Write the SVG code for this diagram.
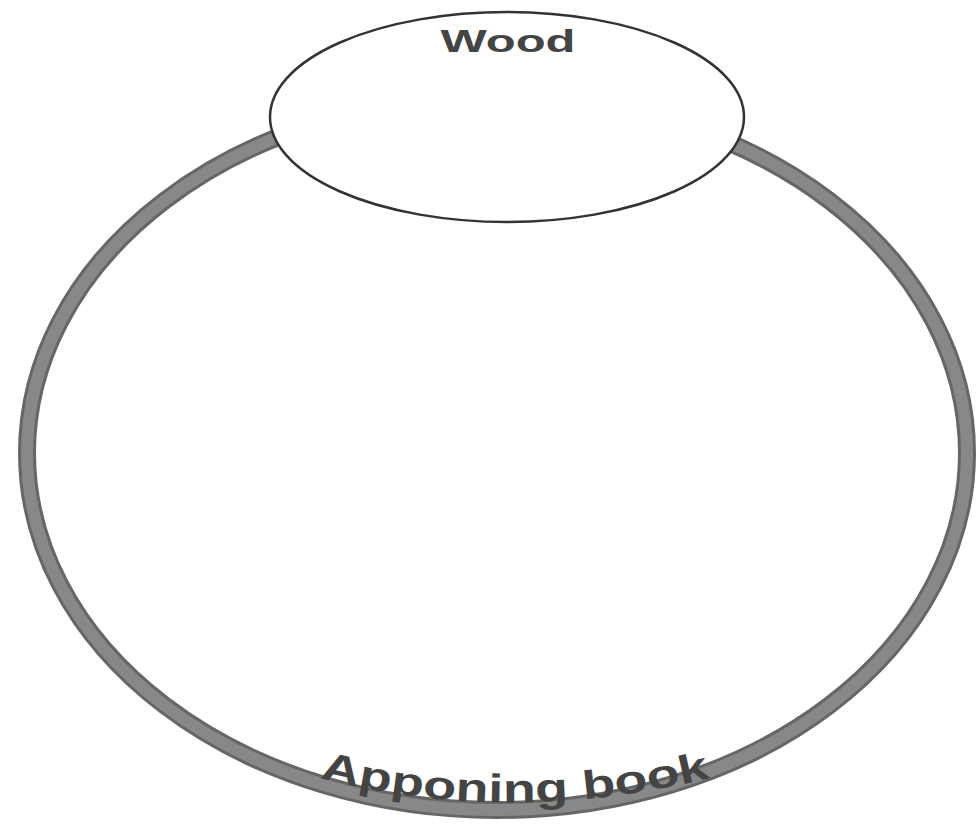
<svg xmlns="http://www.w3.org/2000/svg" width="978" height="832" viewBox="0 0 978 832">
<style>
.ring-out{fill:none;stroke:#666;stroke-width:18}
.ring-in{fill:none;stroke:#888;stroke-width:12}
.node{fill:#fff;stroke:#333;stroke-width:2.5}
.lbl{font-family:"Liberation Sans",Arial,sans-serif;fill:#444;font-weight:bold}
</style>
<defs>
<path id="arc" d="M 290 770 Q 510 835 740 770"/>
</defs>
<rect width="978" height="832" fill="#fff"/>
<g id="connectors">
<ellipse class="ring-out" cx="497" cy="453" rx="470" ry="357"/>
<ellipse class="ring-in" cx="497" cy="453" rx="470" ry="357"/>
</g>
<g id="wood">
<ellipse class="node" cx="507" cy="117" rx="237" ry="105"/>
<text class="lbl" x="508" y="52" font-size="32" text-anchor="middle" textLength="135" lengthAdjust="spacingAndGlyphs">Wood</text>
</g>
<g id="bottom-label">
<text class="lbl" font-size="40" fill="#333"><textPath href="#arc" startOffset="50%" text-anchor="middle" textLength="395" lengthAdjust="spacingAndGlyphs">Apponing book</textPath></text>
</g>
</svg>
